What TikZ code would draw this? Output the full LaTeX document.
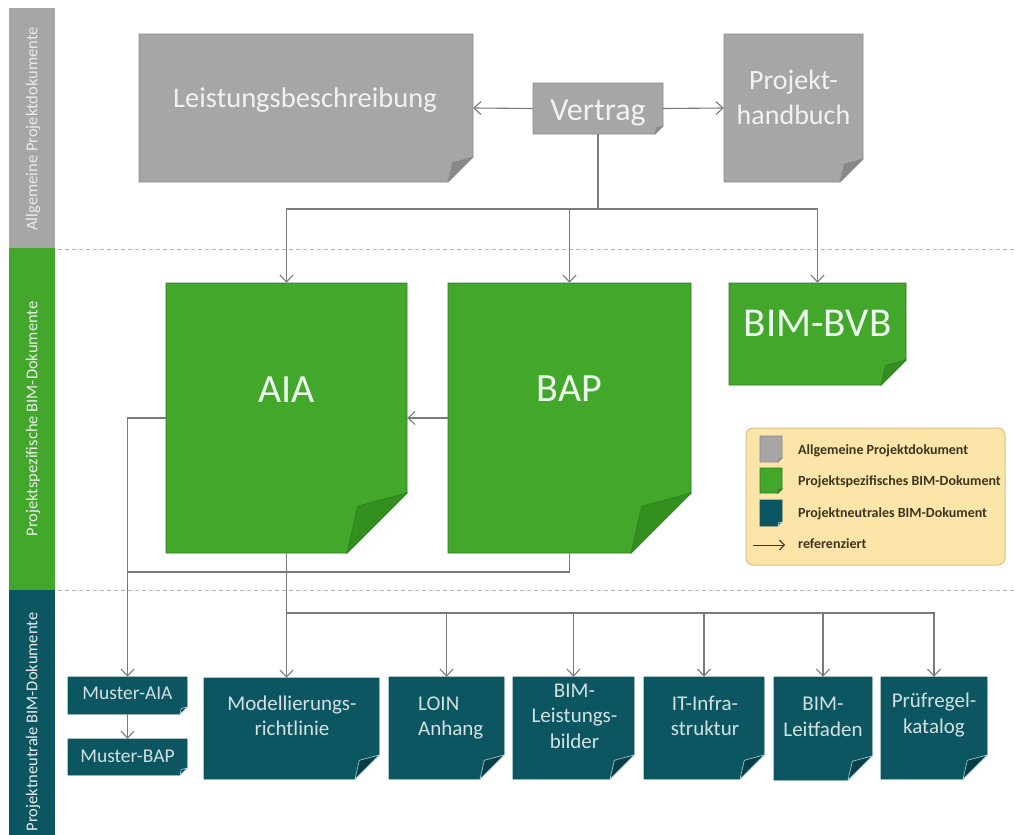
\documentclass[tikz,border=0pt]{standalone}
\usepackage{fontspec}
\setmainfont{Carlito}
\usetikzlibrary{arrows.meta,fit}
\definecolor{docgray}{HTML}{A6A6A6}
\definecolor{docgrayd}{HTML}{8C8C8C}
\definecolor{docgrayf}{HTML}{888888}
\definecolor{docgreen}{HTML}{43A72B}
\definecolor{docgreend}{HTML}{2F7F1F}
\definecolor{docgreenf}{HTML}{33901F}
\definecolor{docteal}{HTML}{0C5662}
\definecolor{doctealf}{HTML}{083E47}
\definecolor{docteall}{HTML}{9CC3C8}
\definecolor{linegray}{HTML}{7A7A7A}
\definecolor{legfill}{HTML}{FCE5A8}
\definecolor{legdraw}{HTML}{DCC285}
\definecolor{legtext}{HTML}{3E3420}
\tikzset{
  gray body/.style={fill=docgray, draw=docgrayd, line width=0.8pt},
  gray flap/.style={fill=docgrayf, draw=docgrayd, line width=0.6pt},
  green body/.style={fill=docgreen, draw=docgreend, line width=0.9pt},
  green flap/.style={fill=docgreenf, draw=docgreend, line width=0.7pt},
  teal body/.style={fill=docteal, draw=docteal, line width=0.6pt},
  teal flap/.style={fill=doctealf, draw=docteall, line width=0.7pt},
  boxnode/.style={inner sep=0pt, draw=none},
  conn/.style={draw=linegray, line width=1.1pt},
  arr/.style={conn, -{Straight Barb[length=7pt,width=13pt,line width=1.1pt]}},
  graytext/.style={text=white!95!black},
  greentext/.style={text=white!93!green},
  tealtext/.style={text=white!82!docteal},
  bandlabel/.style={rotate=90, text=white!92!black, font=\fontsize{16.5}{18}\selectfont},
  legtxt/.style={anchor=base west, inner sep=0pt, text=legtext, font=\bfseries\fontsize{14}{15}\selectfont},
  sep/.style={draw=black!30, line width=1pt, dash pattern=on 4pt off 3pt},
}
% #1 name, #2 x1, #3 y1, #4 x2, #5 y2, #6 fold, #7 kind
\newcommand{\docbox}[7]{%
  \path[#7 body] (#2,#3) -- (#4,#3) -- (#4,{#5-#6}) -- ({#4-#6},#5) -- (#2,#5) -- cycle;
  \path[#7 flap] (#4,{#5-#6}) -- ({#4-0.82*#6},{#5-0.78*#6}) -- ({#4-#6},#5) -- cycle;
  \node[boxnode, fit={(#2,#3) (#4,#5)}] (#1) {};
}
\begin{document}
\begin{tikzpicture}[x=1pt, y=-1pt]
\useasboundingbox[fill=white] (0,0) rectangle (1015,835);
% bands
\fill[docgray] (9,8) rectangle (55,248);
\fill[docgreen] (9,248) rectangle (55,590);
\fill[docteal] (9,590) rectangle (55,835);
\node[bandlabel] (bl1) at (33,129) {Allgemeine Projektdokumente};
\node[bandlabel] (bl2) at (33,419) {Projektspezifische BIM-Dokumente};
\node[bandlabel] (bl3) at (33,722) {Projektneutrale BIM-Dokumente};
% separators
\draw[sep] (58,249) -- (1015,249);
\draw[sep] (58,590) -- (1015,590);
% top documents
\docbox{leist}{139}{34}{473}{182}{25}{gray}
\docbox{vertrag}{533}{83}{663}{134}{8}{gray}
\docbox{handbuch}{724}{34}{863}{182}{23}{gray}
\node[graytext, anchor=base, inner sep=0pt, font=\fontsize{28.5}{30}\selectfont] (t-leist) at (305,107) {Leistungsbeschreibung};
\node[graytext, anchor=base, inner sep=0pt, font=\fontsize{32}{34}\selectfont] (t-vertrag) at (598,120) {Vertrag};
\node[graytext, anchor=base, inner sep=0pt, font=\fontsize{28}{30}\selectfont] (t-hb1) at (793.5,89) {Projekt-};
\node[graytext, anchor=base, inner sep=0pt, font=\fontsize{28}{30}\selectfont] (t-hb2) at (793.5,124) {handbuch};
% project specific
\docbox{aia}{166}{283}{407}{553}{60}{green}
\docbox{bap}{448}{283}{691}{553}{60}{green}
\docbox{bvb}{729}{283}{906}{385}{25}{green}
\node[greentext, anchor=base, inner sep=0pt, font=\fontsize{40}{42}\selectfont] (t-aia) at (286.5,402) {AIA};
\node[greentext, anchor=base, inner sep=0pt, font=\fontsize{40}{42}\selectfont] (t-bap) at (569.5,401) {BAP};
\node[greentext, anchor=base, inner sep=0pt, font=\fontsize{41}{43}\selectfont] (t-bvb) at (817.5,336) {BIM-BVB};
% project neutral
\docbox{maia}{68}{677}{187}{714}{7}{teal}
\docbox{mbap}{68}{739}{187}{775}{7}{teal}
\docbox{modell}{204}{678}{379}{779}{24}{teal}
\docbox{loin}{389}{677}{504}{779}{24}{teal}
\docbox{leistb}{513}{677}{634}{779}{24}{teal}
\docbox{itinfra}{644}{677}{764}{779}{24}{teal}
\docbox{leitf}{774}{677}{872}{780}{24}{teal}
\docbox{pruef}{881}{677}{987}{779}{24}{teal}
\tikzset{btxt/.style={tealtext, inner sep=0pt, align=center, font=\fontsize{21}{25.5}\selectfont}}
\node[tealtext, anchor=base, inner sep=0pt, font=\fontsize{19.5}{21}\selectfont] (t-maia) at (127.5,699) {Muster-AIA};
\node[tealtext, anchor=base, inner sep=0pt, font=\fontsize{19.5}{21}\selectfont] (t-mbap) at (127.5,762) {Muster-BAP};
\node[btxt] (t-modell) at (292,716) {Modellierungs-\\richtlinie};
\node[btxt, align=left, anchor=west] (t-loin) at (418,718) {LOIN\\Anhang};
\node[btxt] (t-leistb) at (574.5,716) {BIM-\\Leistungs-\\bilder};
\node[btxt] (t-itinfra) at (705,716) {IT-Infra-\\struktur};
\node[btxt] (t-leitf) at (823,717) {BIM-\\Leitfaden};
\node[btxt] (t-pruef) at (934,715) {Prüfregel-\\katalog};
% connectors top
\draw[arr] (vertrag.west) -- (leist.east);
\draw[arr] (vertrag.east) -- (handbuch.west);
\coordinate (bus1) at (598,209);
\draw[conn] (vertrag.south) -- (bus1);
\draw[arr] (bus1) -| (aia.north);
\draw[arr] (bus1) -| (bap.north);
\draw[arr] (bus1) -| (bvb.north);
% middle
\draw[arr] (bap.west) -- (aia.east);
\draw[arr] (aia.west) -| (maia.north);
\coordinate (j1) at (127.5,572);
\draw[conn] (bap.south) |- (j1);
\draw[arr] (maia.south) -- (mbap.north);
\coordinate (bus2) at (286.5,613);
\draw[conn] (aia.south) -- (bus2);
\draw[arr] (bus2) -- (bus2 |- modell.north);
\draw[arr] (bus2) -| (loin.north);
\draw[arr] (bus2) -| (leistb.north);
\draw[arr] (bus2) -| (itinfra.north);
\draw[arr] (bus2) -| (leitf.north);
\draw[arr] (bus2) -| (pruef.north);
% legend
\node[fill=legfill, draw=legdraw, line width=1pt, rounded corners=7pt, fit={(746,428) (1005,565)}, inner sep=0pt] (legend) {};
\docbox{lg1}{760}{436}{782}{462}{4}{gray}
\docbox{lg2}{760}{468}{782}{493}{4}{green}
\docbox{lg3}{760}{500}{782}{526}{4}{teal}
\coordinate (la1) at (753,545);
\coordinate (la2) at (785,545);
\draw[draw=legtext, line width=1pt, -{Straight Barb[length=5pt,width=10pt,line width=1pt]}] (la1) -- (la2);
\node[legtxt] (l1) at (798,454) {Allgemeine Projektdokument};
\node[legtxt] (l2) at (798,485) {Projektspezifisches BIM-Dokument};
\node[legtxt] (l3) at (798,517) {Projektneutrales BIM-Dokument};
\node[legtxt] (l4) at (798,548) {referenziert};
\end{tikzpicture}
\end{document}
